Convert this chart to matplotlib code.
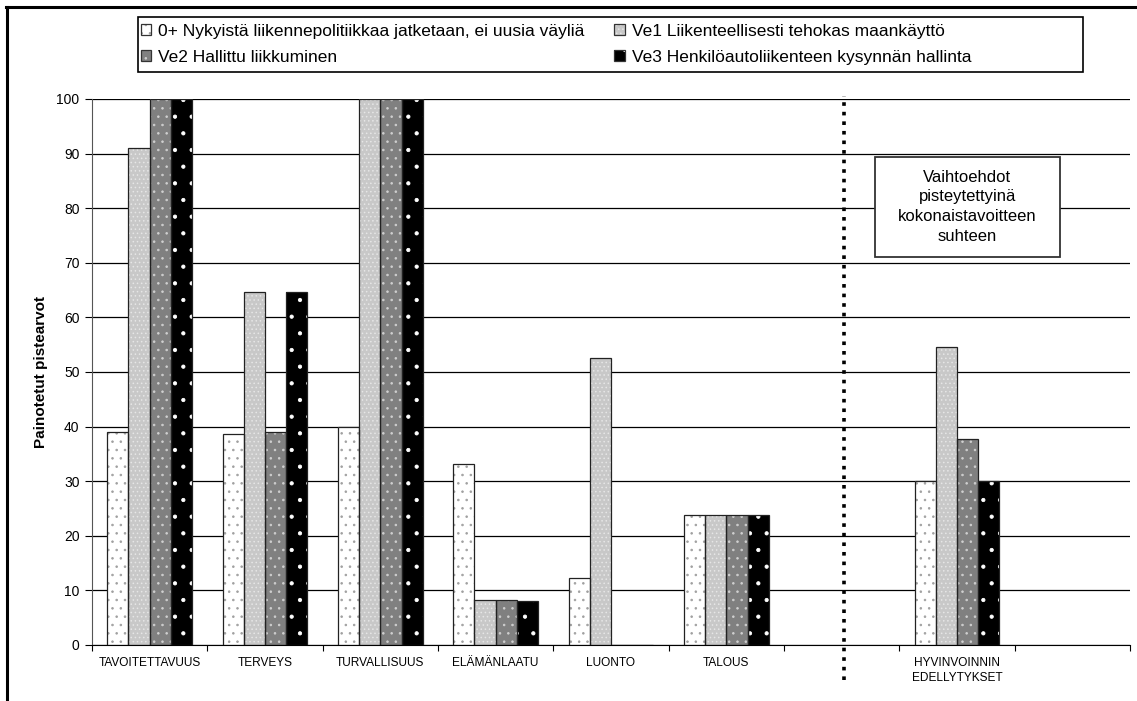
import matplotlib
matplotlib.use("Agg")
import matplotlib.pyplot as plt
import numpy as np
from matplotlib.patches import Patch, Rectangle
from matplotlib.lines import Line2D
from matplotlib.legend_handler import HandlerTuple

plt.rcParams['font.family'] = ['Liberation Sans', 'DejaVu Sans']
plt.rcParams['hatch.linewidth'] = 0.6

# Painotetut pistearvot teemoittain (tyhjät paikat jätetään väliin)
categories = ["TAVOITETTAVUUS", "TERVEYS", "TURVALLISUUS", "ELÄMÄNLAATU",
              "LUONTO", "TALOUS", "", "HYVINVOINNIN\nEDELLYTYKSET", ""]
ve0 = [39.0, 38.7, 40.0, 33.2, 12.3, 23.8, np.nan, 30.1, np.nan]
ve1 = [91.0, 64.7, 100.0, 8.2, 52.5, 23.8, np.nan, 54.5, np.nan]
ve2 = [100.0, 39.0, 100.0, 8.2, 0.0, 23.8, np.nan, 37.7, np.nan]
ve3 = [100.0, 64.7, 100.0, 8.1, 0.0, 23.8, np.nan, 30.1, np.nan]
series_names = ["0+ Nykyistä liikennepolitiikkaa jatketaan, ei uusia väyliä",
                "Ve1 Liikenteellisesti tehokas maankäyttö",
                "Ve2 Hallittu liikkuminen",
                "Ve3 Henkilöautoliikenteen kysynnän hallinta"]
yticks = list(range(0, 101, 10))

# pinnan väri, kuvion väri, kuvio
styles = [("white", "#a0a0a0", ".."),
          ("#c8c8c8", "#e6e6e6", "...."),
          ("#808080", "#d0d0d0", ".."),
          ("black", "white", ".")]

fig = plt.figure(figsize=(11.37, 7.01), dpi=100)
ax = fig.add_axes([0.0809, 0.0799, 0.9129, 0.7789])

x = np.arange(len(categories))
width = 0.184
handles = []
for i, (vals, (face, hc, h)) in enumerate(zip([ve0, ve1, ve2, ve3], styles)):
    pos = x + (i - 1.5) * width
    ax.bar(pos, vals, width, color=face, edgecolor=hc, hatch=h, linewidth=0, zorder=2)
    ax.bar(pos, vals, width, fill=False, edgecolor="#222222", linewidth=0.9, zorder=3)
    handles.append((Patch(facecolor=face, edgecolor=hc, hatch=h, linewidth=0),
                    Patch(fill=False, edgecolor="#333333", linewidth=0.9)))

ax.set_xlim(-0.5, len(categories) - 0.5)
ax.set_ylim(0, 100)
ax.set_yticks(yticks)
ax.tick_params(axis="y", labelsize=10, length=5, direction="out", pad=4)
ax.yaxis.grid(True, color="black", linewidth=0.9)
ax.set_axisbelow(True)

ax.set_xticks(np.arange(len(categories) + 1) - 0.5)
ax.set_xticklabels([])
ax.tick_params(axis="x", which="major", length=4, direction="out")
ax.set_xticks(x, minor=True)
ax.set_xticklabels(categories, minor=True, fontsize=8.6, linespacing=1.3)
ax.tick_params(axis="x", which="minor", length=0, pad=9)

for side in ("top", "right"):
    ax.spines[side].set_visible(False)
ax.spines["left"].set_color("#555555")
ax.spines["bottom"].set_color("black")

ax.set_ylabel("Painotetut pistearvot", fontsize=11, fontweight="bold", labelpad=6)

# pystysuora katkoviiva erottaa kokonaistavoitteen
ax.plot([6.02, 6.02], [-6.4, 100.6], linestyle=":", linewidth=2.6, color="black",
        clip_on=False, zorder=4)

ax.add_patch(Rectangle((0.754, 0.7106), 0.1786, 0.1832, transform=ax.transAxes,
                       facecolor="white", edgecolor="#333333", linewidth=1.3, zorder=5))
ax.text(0.8434, 0.8027, "Vaihtoehdot\npisteytettyinä\nkokonaistavoitteen\nsuhteen",
        transform=ax.transAxes, ha="center", va="center", fontsize=12,
        linespacing=1.4, zorder=6)

# selite kahdessa sarakkeessa, kehys piirretään erikseen
order = [0, 2, 1, 3]
leg = fig.legend([handles[k] for k in order], [series_names[k] for k in order],
                 handler_map={tuple: HandlerTuple(ndivide=1)},
                 loc="upper left", bbox_to_anchor=(141 / 1137, 1 - 24 / 701),
                 ncol=2, fontsize=12.5, frameon=False, handlelength=0.6,
                 handleheight=0.6, handletextpad=0.4, columnspacing=1.7,
                 labelspacing=0.62, borderpad=0, borderaxespad=0)
fig.add_artist(Rectangle((138 / 1137, 1 - 72 / 701), 945 / 1137, 55 / 701,
                         transform=fig.transFigure, fill=False,
                         edgecolor="black", linewidth=1.2))

# kehys kuvan vasemmassa ja yläreunassa
fig.add_artist(Line2D([7 / 1137, 7 / 1137], [0, 1 - 7 / 701], color="black",
                      linewidth=2.2, transform=fig.transFigure))
fig.add_artist(Line2D([6 / 1137, 1], [1 - 7 / 701, 1 - 7 / 701], color="black",
                      linewidth=2.2, transform=fig.transFigure))

fig.savefig("out.png", dpi=100)
